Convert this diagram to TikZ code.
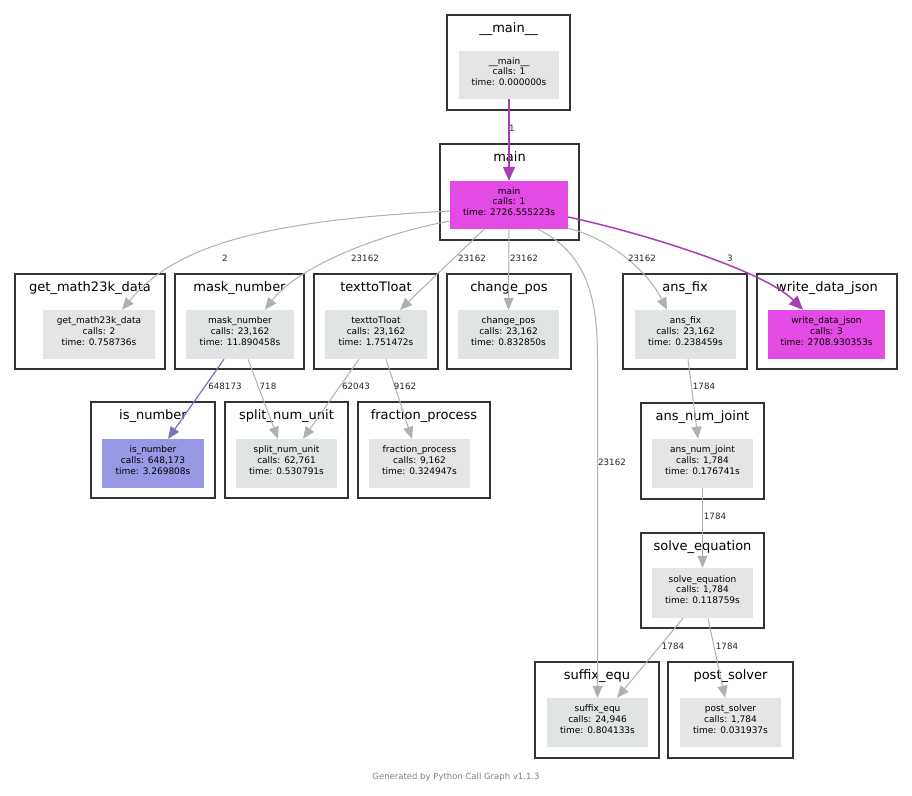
\documentclass[tikz,border=0pt]{standalone}
\usepackage{fontspec}
\setmainfont{DejaVu Sans}
\usepackage{tikz}
\usetikzlibrary{arrows.meta, calc, fit, positioning}
\definecolor{pcgframe}{HTML}{333333}
\definecolor{pcggray}{HTML}{E5E5E5}
\definecolor{pcgcool}{HTML}{E0E4E5}
\definecolor{pcghot}{HTML}{E44AE4}
\definecolor{pcgblue}{HTML}{9898E4}
\definecolor{pcgedge}{HTML}{B0B0B0}
\definecolor{pcghotedge}{HTML}{AA3CB4}
\definecolor{pcgblueedge}{HTML}{7873B8}

\begin{document}
\begin{tikzpicture}[
x=1pt, y=-1pt,
groupframe/.style = {draw=pcgframe, line width=2.8pt, inner sep=0pt, outer sep=0pt},
grouptitle/.style = {font=\fontsize{13}{15}\selectfont, inner sep=0pt, text height=10pt, text depth=3pt},
funcnode/.style = {align=center, inner sep=0pt, font=\fontsize{9}{10.7}\selectfont, fill=pcggray},
coolnode/.style = {funcnode, fill=pcgcool},
hotnode/.style = {funcnode, fill=pcghot},
bluenode/.style = {funcnode, fill=pcgblue},
calledge/.style = {draw=pcgedge, line width=1pt, -{Triangle[length=12pt, width=10pt]}},
hotedge/.style = {draw=pcghotedge, line width=1.5pt, -{Triangle[length=14pt, width=12pt]}},
blueedge/.style = {draw=pcgblueedge, line width=1.2pt, -{Triangle[length=12pt, width=10pt]}},
counttexts/.style = {font=\fontsize{8.7}{10}\selectfont, inner sep=0pt, text=black!85},
footertexts/.style = {font=\fontsize{8.5}{10}\selectfont, inner sep=0pt, text=black!50}
]
\useasboundingbox[fill=white] (0,0) rectangle (912,795);

% module groups
\node[groupframe, fit={(447,15) (570,110)}] (mainmainframe) {};
\node[groupframe, fit={(440,144) (579,240)}] (mainframe) {};
\node[groupframe, fit={(15,274) (165,369)}] (getdataframe) {};
\node[groupframe, fit={(175,274) (304,369)}] (masknumframe) {};
\node[groupframe, fit={(314,274) (438,369)}] (tofloatframe) {};
\node[groupframe, fit={(447,274) (571,369)}] (changeposframe) {};
\node[groupframe, fit={(623,274) (747,369)}] (ansfixframe) {};
\node[groupframe, fit={(757,274) (897,369)}] (writejsonframe) {};
\node[groupframe, fit={(91,402) (215,498)}] (isnumframe) {};
\node[groupframe, fit={(225,402) (348,498)}] (splitnumframe) {};
\node[groupframe, fit={(358,402) (490,498)}] (fractionframe) {};
\node[groupframe, fit={(641,403) (764,499)}] (ansjointframe) {};
\node[groupframe, fit={(641,533) (764,628)}] (solveeqframe) {};
\node[groupframe, fit={(535,662) (659,758)}] (suffixframe) {};
\node[groupframe, fit={(668,662) (793,758)}] (postsolverframe) {};

\node[grouptitle, below=7pt of mainmainframe.north] (mainmaintitle) {\_\_main\_\_};
\node[grouptitle, below=7pt of mainframe.north] (maintitle) {main};
\node[grouptitle, below=7pt of getdataframe.north] (getdatatitle) {get\_math23k\_data};
\node[grouptitle, below=7pt of masknumframe.north] (masknumtitle) {mask\_number};
\node[grouptitle, below=7pt of tofloatframe.north] (tofloattitle) {texttoTloat};
\node[grouptitle, below=7pt of changeposframe.north] (changepostitle) {change\_pos};
\node[grouptitle, below=7pt of ansfixframe.north] (ansfixtitle) {ans\_fix};
\node[grouptitle, below=7pt of writejsonframe.north] (writejsontitle) {write\_data\_json};
\node[grouptitle, below=7pt of isnumframe.north] (isnumtitle) {is\_number};
\node[grouptitle, below=7pt of splitnumframe.north] (splitnumtitle) {split\_num\_unit};
\node[grouptitle, below=7pt of fractionframe.north] (fractiontitle) {fraction\_process};
\node[grouptitle, below=7pt of ansjointframe.north] (ansjointtitle) {ans\_num\_joint};
\node[grouptitle, below=7pt of solveeqframe.north] (solveeqtitle) {solve\_equation};
\node[grouptitle, below=7pt of suffixframe.north] (suffixtitle) {suffix\_equ};
\node[grouptitle, below=7pt of postsolverframe.north] (postsolvertitle) {post\_solver};

% functions
\node[funcnode, fit={(459,51) (559,99)}] (mainmain) {\_\_main\_\_\\calls: 1\\time: 0.000000s};
\node[hotnode, fit={(450,181) (568,229)}] (main) {main\\calls: 1\\time: 2726.555223s};
\node[funcnode, fit={(43,310) (155,359)}] (getdata) {get\_math23k\_data\\calls: 2\\time: 0.758736s};
\node[coolnode, fit={(186,310) (294,359)}] (masknum) {mask\_number\\calls: 23,162\\time: 11.890458s};
\node[coolnode, fit={(325,310) (427,359)}] (tofloat) {texttoTloat\\calls: 23,162\\time: 1.751472s};
\node[coolnode, fit={(458,310) (559,359)}] (changepos) {change\_pos\\calls: 23,162\\time: 0.832850s};
\node[coolnode, fit={(635,310) (736,359)}] (ansfix) {ans\_fix\\calls: 23,162\\time: 0.238459s};
\node[hotnode, fit={(768,310) (885,359)}] (writejson) {write\_data\_json\\calls: 3\\time: 2708.930353s};
\node[bluenode, fit={(102,439) (204,488)}] (isnum) {is\_number\\calls: 648,173\\time: 3.269808s};
\node[coolnode, fit={(236,439) (337,488)}] (splitnum) {split\_num\_unit\\calls: 62,761\\time: 0.530791s};
\node[funcnode, fit={(369,439) (470,488)}] (fraction) {fraction\_process\\calls: 9,162\\time: 0.324947s};
\node[funcnode, fit={(652,439) (753,488)}] (ansjoint) {ans\_num\_joint\\calls: 1,784\\time: 0.176741s};
\node[funcnode, fit={(652,568) (753,618)}] (solveeq) {solve\_equation\\calls: 1,784\\time: 0.118759s};
\node[coolnode, fit={(547,698) (648,747)}] (suffix) {suffix\_equ\\calls: 24,946\\time: 0.804133s};
\node[funcnode, fit={(680,698) (781,747)}] (postsolver) {post\_solver\\calls: 1,784\\time: 0.031937s};

% calls
\draw[hotedge] (mainmain.south) -- (main.north);
\draw[calledge] ([yshift=-6pt]main.west) .. controls +(-200,10) and +(50,-60) .. ([xshift=23pt]getdata.north);
\draw[calledge] ([yshift=-16pt]main.west) .. controls +(-80,15) and +(30,-40) .. ([xshift=25pt]masknum.north);
\draw[calledge] ([xshift=-25pt]main.south) -- ([xshift=24pt]tofloat.north);
\draw[calledge] (main.south) -- (changepos.north);
\draw[calledge] ([xshift=29pt]main.south) .. controls +(50,25) and +(0,-60) .. (suffix.north |- changepos.south) -- (suffix.north);
\draw[calledge] ([yshift=1pt]main.south east) .. controls +(40,10) and +(-20,-40) .. ([xshift=-18.5pt]ansfix.north);
\draw[hotedge] ([yshift=-12pt]main.east) .. controls +(70,15) and +(-40,-40) .. ([xshift=-23.5pt]writejson.north);
\draw[blueedge] ([xshift=-16pt]masknum.south) -- ([xshift=15pt]isnum.north);
\draw[calledge] ([xshift=8pt]masknum.south) -- ([xshift=-8.5pt]splitnum.north);
\draw[calledge] ([xshift=-17pt]tofloat.south) -- ([xshift=16.5pt]splitnum.north);
\draw[calledge] ([xshift=10pt]tofloat.south) -- ([xshift=-7.5pt]fraction.north);
\draw[calledge] ([xshift=2.5pt]ansfix.south) -- ([xshift=-4.5pt]ansjoint.north);
\draw[calledge] (ansjoint.south) -- (solveeq.north);
\draw[calledge] ([xshift=-19.5pt]solveeq.south) -- ([xshift=19.5pt]suffix.north);
\draw[calledge] ([xshift=5.5pt]solveeq.south) -- ([xshift=-5.5pt]postsolver.north);

% call counts
\node[counttexts] (lblmain) at (512,128) {1};
\node[counttexts] (lblgetdata) at (225,258) {2};
\node[counttexts] (lblmasknum) at (365,258) {23162};
\node[counttexts] (lbltofloat) at (472,258) {23162};
\node[counttexts] (lblchangepos) at (524,258) {23162};
\node[counttexts] (lblsuffix) at (612,462) {23162};
\node[counttexts] (lblansfix) at (642,258) {23162};
\node[counttexts] (lblwritejson) at (730,258) {3};
\node[counttexts] (lblisnum) at (225,386) {648173};
\node[counttexts] (lblsplitnuma) at (268,386) {718};
\node[counttexts] (lblsplitnumb) at (356,386) {62043};
\node[counttexts] (lblfraction) at (405,386) {9162};
\node[counttexts] (lblansjoint) at (704,386) {1784};
\node[counttexts] (lblsolveeq) at (715,516) {1784};
\node[counttexts] (lblsuffixb) at (673,646) {1784};
\node[counttexts] (lblpostsolver) at (727,646) {1784};

\node[footertexts] (credit) at (456,777) {Generated by Python Call Graph v1.1.3};
\end{tikzpicture}
\end{document}
